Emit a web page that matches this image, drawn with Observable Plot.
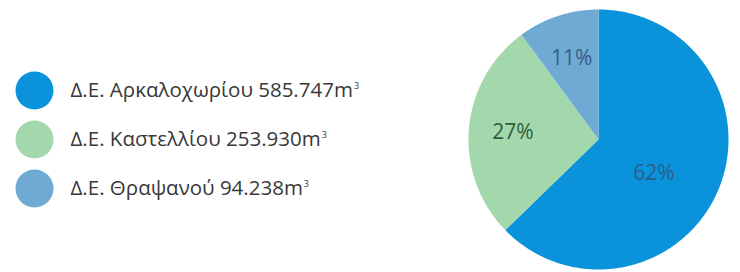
<!DOCTYPE html>
<html><head><meta charset="utf-8">
<script src="https://cdn.jsdelivr.net/npm/d3@7"></script>
<script src="https://cdn.jsdelivr.net/npm/@observablehq/plot@0.6"></script>
<style>
body{margin:0;background:#fff;}
#wrap{display:flex;width:740px;height:272px;}
</style></head>
<body><div id="wrap"></div>
<script>
const names = ["Δ.Ε. Αρκαλοχωρίου", "Δ.Ε. Καστελλίου", "Δ.Ε. Θραψανού"];
const volumes = [585.747, 253.930, 94.238];
const volumeLabels = ["585.747", "253.930", "94.238"];
const percents = ["62%", "27%", "11%"];
const colors = ["#0a93da", "#a3d8ad", "#6eaad3"];
const labelColors = ["#2a5d8a", "#2f5e3c", "#3a5b84"];
const labelRadius = [0.5, 0.66, 0.66];

const font = "'Open Sans', sans-serif";
const rows = names.map((n, i) => ({name: n, text: `${n} ${volumeLabels[i]}m³`, color: colors[i]}));

// Legend
const legend = Plot.plot({
  width: 460, height: 272, margin: 0,
  style: {fontFamily: font, background: "transparent"},
  y: {type: "point", domain: names, range: [90, 188], padding: 0, axis: null},
  color: {type: "identity"},
  marks: [
    Plot.dot(rows, {y: "name", frameAnchor: "left", dx: 34, r: 19, fill: "color", stroke: "none"}),
    Plot.text(rows, {y: "name", text: "text", frameAnchor: "left", dx: 70, textAnchor: "start",
      fontSize: 20.5, fill: "#383838", lineAnchor: "middle"})
  ]
});
// render the cubic-metre exponent as a small superscript
legend.querySelectorAll("text").forEach(t => {
  const s = t.textContent;
  if (s.endsWith("³")) {
    t.textContent = s.slice(0, -1);
    const sup = document.createElementNS("http://www.w3.org/2000/svg", "tspan");
    sup.setAttribute("font-size", "9");
    sup.setAttribute("dy", "-8");
    sup.setAttribute("dx", "1");
    sup.textContent = "3";
    t.appendChild(sup);
  }
});

// Pie
const pieGen = d3.pie().sort(null).value(d => d.value);
const arcs = pieGen(names.map((n, i) => ({name: n, value: volumes[i], color: colors[i], pct: percents[i], lc: labelColors[i], lr: labelRadius[i]})));
const poly = [];
arcs.forEach(a => {
  poly.push({name: a.data.name, color: a.data.color, x: 0, y: 0});
  const steps = Math.max(2, Math.ceil((a.endAngle - a.startAngle) / 0.01));
  for (let k = 0; k <= steps; k++) {
    const t = a.startAngle + (a.endAngle - a.startAngle) * k / steps;
    poly.push({name: a.data.name, color: a.data.color, x: Math.sin(t), y: Math.cos(t)});
  }
});
const labels = arcs.map((a, i) => {
  const m = (a.startAngle + a.endAngle) / 2 + (i === 0 ? 0.15 : 0);
  return {x: Math.sin(m) * a.data.lr, y: Math.cos(m) * a.data.lr, text: a.data.pct, c: a.data.lc};
});
const cx = 598 - 460, cy = 139, R = 130;
const pie = Plot.plot({
  width: 280, height: 272, margin: 0,
  style: {fontFamily: font, background: "transparent"},
  x: {domain: [-1, 1], range: [cx - R, cx + R], axis: null},
  y: {domain: [-1, 1], range: [cy + R, cy - R], axis: null},
  color: {type: "identity"},
  marks: [
    Plot.line(poly, {x: "x", y: "y", z: "name", fill: "color", stroke: "none", curve: "linear"}),
    Plot.text(labels, {x: "x", y: "y", text: "text", fill: "c", fontSize: 21})
  ]
});
document.getElementById("wrap").append(legend, pie);
</script></body></html>
